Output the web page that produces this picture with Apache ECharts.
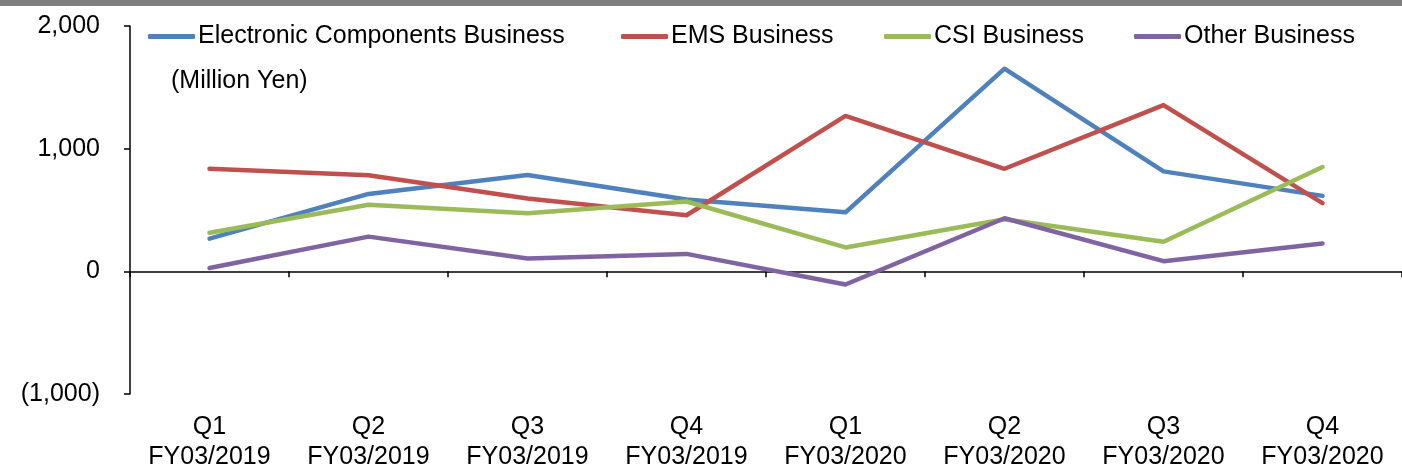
<!DOCTYPE html>
<html>
<head>
<meta charset="utf-8">
<script src="https://cdn.jsdelivr.net/npm/echarts@6/dist/echarts.min.js"></script>
<style>
html,body{margin:0;padding:0;background:#fff;}
#c{width:1402px;height:472px;}
</style>
</head>
<body>
<div id="c"></div>
<script>
const categories = ["Q1\nFY03/2019","Q2\nFY03/2019","Q3\nFY03/2019","Q4\nFY03/2019","Q1\nFY03/2020","Q2\nFY03/2020","Q3\nFY03/2020","Q4\nFY03/2020"];
const electronic = [267, 631, 786, 585, 481, 1652, 815, 615];
const ems = [836, 783, 593, 457, 1267, 836, 1355, 556];
const csi = [315, 543, 473, 569, 195, 425, 241, 850];
const other = [27, 283, 104, 142, -107, 433, 83, 227];
const seriesNames = ["Electronic Components Business","EMS Business","CSI Business","Other Business"];
const colors = ["#4F81BD","#C0504D","#9BBB59","#8064A2"];
const unitLabel = "(Million Yen)";

const font = "'Liberation Sans', Arial, sans-serif";
const chart = echarts.init(document.getElementById('c'), null, {renderer:'canvas'});
function fmt(v){
  const s = Math.abs(v).toLocaleString('en-US');
  return v < 0 ? '(' + s + ')' : s;
}
const data = [electronic, ems, csi, other];
const legendLefts = [143, 616, 879, 1129];
chart.setOption({
  animation:false,
  backgroundColor:'#fff',
  color:colors,
  textStyle:{fontFamily:font},
  graphic:[
    {type:'rect', left:0, top:0, shape:{width:1402, height:6}, style:{fill:'#7f7f7f'}, z:100},
    {type:'text', left:171, top:69, style:{text:unitLabel, font:"25px 'Liberation Sans', Arial, sans-serif", fill:'#000'}}
  ],
  legend: seriesNames.map((n,i)=>({
    left:legendLefts[i], top:19, itemWidth:47, itemHeight:5,
    icon:'roundRect',
    textStyle:{fontSize:25, color:'#000', fontFamily:font, padding:[0,0,0,-2]},
    data:[n]
  })),
  grid:{left:130, top:26, width:1274, height:374, containLabel:false},
  xAxis:[
    {type:'category', data:categories, position:'bottom', boundaryGap:true,
     axisLine:{show:false, onZero:false}, axisTick:{show:false},
     axisLabel:{color:'#000', fontSize:25, fontFamily:font, lineHeight:30, margin:18, interval:0}},
    {type:'category', data:categories, position:'bottom', boundaryGap:true,
     axisLine:{show:true, onZero:true, lineStyle:{color:'#000', width:1.5}},
     axisTick:{show:true, length:6, inside:false, lineStyle:{color:'#000', width:1.5}},
     axisLabel:{show:false}}
  ],
  yAxis:{
    type:'value', min:-1000, max:2000, interval:1000,
    axisLine:{show:true, lineStyle:{color:'#000', width:1.5}},
    axisTick:{show:true, length:6, lineStyle:{color:'#000', width:1.5}},
    splitLine:{show:false},
    axisLabel:{color:'#000', fontSize:25, fontFamily:font, margin:30, formatter:fmt}
  },
  series: seriesNames.map((n,i)=>({
    name:n, type:'line', data:data[i], symbol:'none', xAxisIndex:0,
    lineStyle:{width:4.5, color:colors[i], cap:'round', join:'round'},
    itemStyle:{color:colors[i]}
  }))
});
</script>
</body>
</html>
